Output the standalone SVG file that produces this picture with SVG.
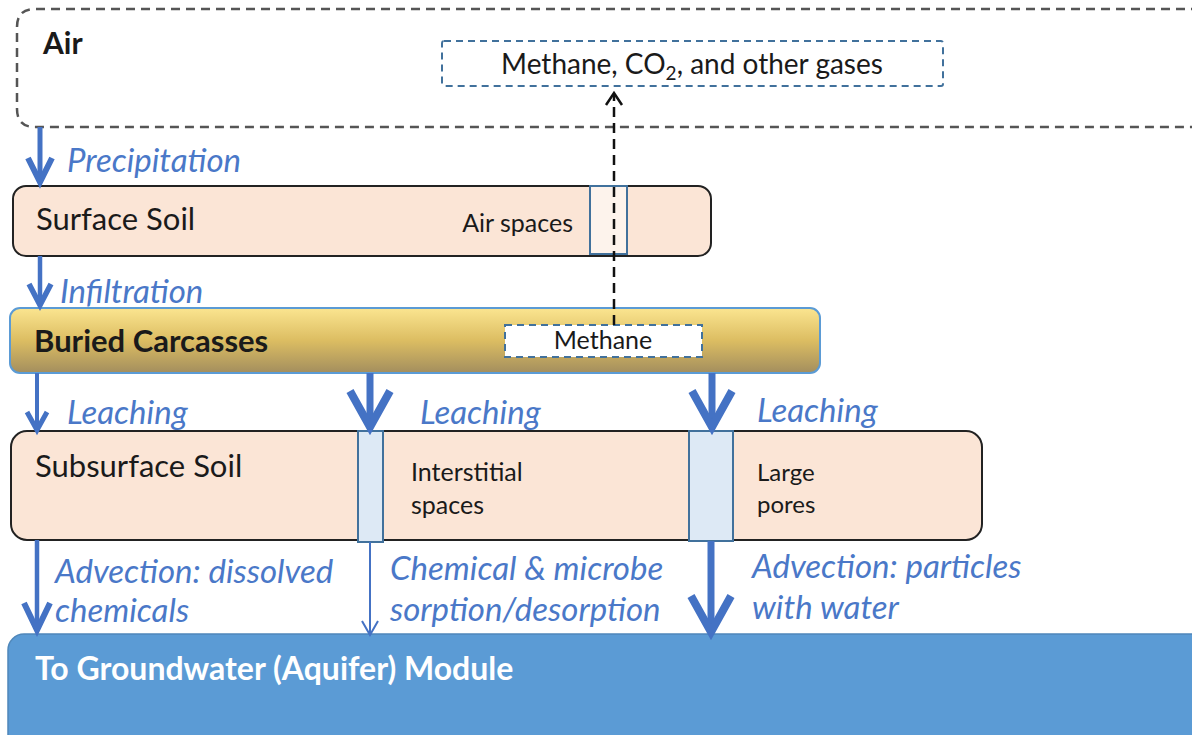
<svg xmlns="http://www.w3.org/2000/svg" width="1192" height="735" viewBox="0 0 1192 735">
<defs>
<linearGradient id="gold" x1="0" y1="0" x2="0" y2="1">
<stop offset="0" stop-color="#fbe590"/>
<stop offset="0.5" stop-color="#dcbd62"/>
<stop offset="1" stop-color="#a38e5e"/>
</linearGradient>
<style>
.lbl{font-family:Lato,"Liberation Sans",sans-serif;fill:#1a1a1a}
.flow{font-family:Lato,"Liberation Sans",sans-serif;font-style:italic;fill:#4a78c8;font-size:33px}
.soil{fill:#fbe5d6;stroke:#222;stroke-width:2}
.pore{fill:#dde9f5;stroke:#41719c;stroke-width:2}
.dashblue{fill:#fff;stroke:#41719c;stroke-width:2;stroke-dasharray:7 5}
.arr{stroke:#4472c4;fill:none;stroke-linejoin:miter;stroke-linecap:butt}
</style>
</defs>
<rect width="1192" height="735" fill="#fff"/>

<g id="air">
<path d="M1200,9 H35 Q17,9 17,27 V109 Q17,127 35,127 H1200" fill="none" stroke="#555" stroke-width="2.5" stroke-dasharray="9 6"/>
<text class="lbl" x="43" y="54" font-size="30" font-weight="bold">Air</text>
</g>

<g id="gases">
<rect class="dashblue" x="442" y="41" width="501" height="45" rx="2"/>
<text class="lbl" x="692" y="74" font-size="28" text-anchor="middle">Methane, CO<tspan font-size="19" dy="6">2</tspan><tspan dy="-6">, and other gases</tspan></text>
</g>

<g id="surface-soil">
<rect class="soil" x="13" y="186" width="698" height="70" rx="13"/>
<text class="lbl" x="36" y="230" font-size="31">Surface Soil</text>
<text class="lbl" x="573" y="232" font-size="25" text-anchor="end">Air spaces</text>
<rect x="590" y="186" width="37" height="68" fill="#fdf3ec" stroke="#41719c" stroke-width="2"/>
</g>

<g id="buried-carcasses">
<rect x="10" y="308" width="810" height="65" rx="10" fill="url(#gold)" stroke="#5b9bd5" stroke-width="2"/>
<text class="lbl" x="34" y="352" font-size="31" font-weight="bold">Buried Carcasses</text>
<rect class="dashblue" x="505" y="325" width="197" height="32"/>
<text class="lbl" x="603" y="349" font-size="25" text-anchor="middle">Methane</text>
</g>

<g id="subsurface-soil">
<rect class="soil" x="11" y="431" width="971" height="109" rx="16"/>
<text class="lbl" x="35" y="477" font-size="31">Subsurface Soil</text>
<rect class="pore" x="358" y="431" width="25" height="111"/>
<rect class="pore" x="689" y="431" width="44" height="110"/>
<text class="lbl" x="411" y="481" font-size="25">Interstitial</text>
<text class="lbl" x="411" y="514" font-size="25">spaces</text>
<text class="lbl" x="757" y="481" font-size="24">Large</text>
<text class="lbl" x="757" y="513" font-size="24">pores</text>
</g>

<g id="groundwater">
<rect x="8" y="634" width="1200" height="120" rx="16" fill="#5b9bd5" stroke="#4f87ba" stroke-width="1.5"/>
<text x="35" y="680" font-family="Lato,'Liberation Sans',sans-serif" font-size="32" font-weight="bold" fill="#fff">To Groundwater (Aquifer) Module</text>
</g>

<g id="connectors">
<path d="M614,325 V94" stroke="#111" stroke-width="2.5" stroke-dasharray="10 6" fill="none"/>
<polyline points="606,105 614,93 622,105" fill="none" stroke="#111" stroke-width="2.5"/>

<path class="arr" d="M40,127 V182" stroke-width="5"/>
<polyline class="arr" points="28,158 40,182 52,158" stroke-width="6"/>

<path class="arr" d="M40,256 V305" stroke-width="4.5"/>
<polyline class="arr" points="29,284 40,305 51,284" stroke-width="5.5"/>

<path class="arr" d="M37,373 V430" stroke-width="4"/>
<polyline class="arr" points="27,412 37,430 47,412" stroke-width="5"/>

<path class="arr" d="M370,373 V427" stroke-width="7"/>
<polyline class="arr" points="350,391 370,427 390,391" stroke-width="8"/>

<path class="arr" d="M712,373 V427" stroke-width="7"/>
<polyline class="arr" points="692,391 712,427 732,391" stroke-width="8"/>

<path class="arr" d="M37,540 V630" stroke-width="4.5"/>
<polyline class="arr" points="24,603 37,630 50,603" stroke-width="6"/>

<path class="arr" d="M370,542 V634" stroke-width="2"/>
<polyline class="arr" points="362,621 370,635 378,621" stroke-width="2"/>

<path class="arr" d="M711,541 V632" stroke-width="7"/>
<polyline class="arr" points="691,596 711,632 731,596" stroke-width="8"/>

<text class="flow" x="67" y="172">Precipitation</text>
<text class="flow" x="60" y="303">Infiltration</text>
<text class="flow" x="67" y="424">Leaching</text>
<text class="flow" x="420" y="424">Leaching</text>
<text class="flow" x="757" y="422">Leaching</text>
<text class="flow" x="55" y="583">Advection: dissolved</text>
<text class="flow" x="55" y="622">chemicals</text>
<text class="flow" x="390" y="580">Chemical &amp; microbe</text>
<text class="flow" x="390" y="621">sorption/desorption</text>
<text class="flow" x="752" y="578">Advection: particles</text>
<text class="flow" x="752" y="619">with water</text>
</g>
</svg>
